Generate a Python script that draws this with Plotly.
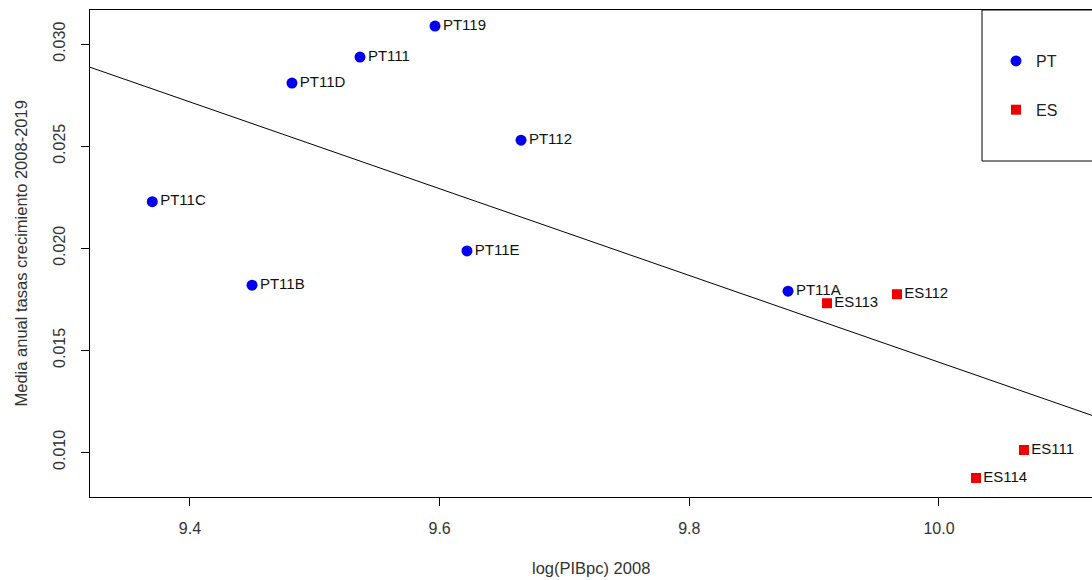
import numpy as np
import plotly.graph_objects as go

# Data
pt_labels = ["PT119", "PT111", "PT11D", "PT112", "PT11C", "PT11E", "PT11B", "PT11A"]
pt_x = [9.5963, 9.5362, 9.4817, 9.6652, 9.3698, 9.6219, 9.4497, 9.8791]
pt_y = [0.03088, 0.029363, 0.028088, 0.025294, 0.02228, 0.019868, 0.018186, 0.017892]

es_labels = ["ES113", "ES112", "ES111", "ES114"]
es_x = [9.9103, 9.9664, 10.0681, 10.0297]
es_y = [0.017304, 0.017745, 0.010113, 0.008740]

x_ticks = [9.4, 9.6, 9.8, 10.0]
x_ticklabels = ["9.4", "9.6", "9.8", "10.0"]
y_ticks = [0.010, 0.015, 0.020, 0.025, 0.030]
y_ticklabels = ["0.010", "0.015", "0.020", "0.025", "0.030"]

x_range = [9.3199, 10.1226]
y_range = [0.00781, 0.03167]

# OLS regression line over all points
all_x = np.array(pt_x + es_x)
all_y = np.array(pt_y + es_y)
slope, intercept = np.polyfit(all_x, all_y, 1)
line_x = np.array(x_range)
line_y = intercept + slope * line_x

FONT = "Liberation Sans, Arial, sans-serif"

fig = go.Figure()

fig.add_trace(go.Scatter(
    x=line_x, y=line_y, mode="lines",
    line=dict(color="black", width=1), showlegend=False, hoverinfo="skip"))

fig.add_trace(go.Scatter(
    x=pt_x, y=pt_y, mode="markers+text", name="PT",
    text=pt_labels, textposition="middle right",
    textfont=dict(family=FONT, size=15, color="#111111"),
    marker=dict(symbol="circle", size=11, color="#0000ee"),
    legendgroup="PT"))

fig.add_trace(go.Scatter(
    x=es_x, y=es_y, mode="markers+text", name="ES",
    text=es_labels, textposition="middle right",
    textfont=dict(family=FONT, size=15, color="#111111"),
    marker=dict(symbol="square", size=10, color="#ee0000"),
    legendgroup="ES"))

# legend box (cut at right edge like the reference)
fig.add_shape(type="rect", xref="paper", yref="paper",
              x0=(982 - 90) / 1002, x1=1.05, y0=(497 - 161) / 487, y1=1.0,
              line=dict(color="black", width=1), fillcolor="rgba(0,0,0,0)")

fig.add_annotation(xref="paper", yref="paper", x=0.5, y=(497 - 568) / 487,
                   xanchor="center", yanchor="middle",
                   text="log(PIBpc) 2008", showarrow=False,
                   font=dict(family=FONT, size=16.5, color="#333333"))
fig.add_annotation(xref="paper", yref="paper", x=(20 - 90) / 1002, y=0.5,
                   xanchor="center", yanchor="middle",
                   text="Media anual tasas crecimiento 2008-2019", showarrow=False,
                   textangle=-90,
                   font=dict(family=FONT, size=16.5, color="#333333"))

fig.update_layout(
    width=1092, height=580,
    margin=dict(l=90, r=0, t=10, b=83),
    paper_bgcolor="white", plot_bgcolor="white",
    font=dict(family=FONT, size=14, color="#333333"),
    legend=dict(x=(996 - 90) / 1002, y=(497 - 44) / 487, xanchor="left", yanchor="top",
                bgcolor="rgba(0,0,0,0)", borderwidth=0, tracegroupgap=25,
                font=dict(family=FONT, size=16, color="#222222")),
    showlegend=True,
)

fig.update_xaxes(range=x_range, tickvals=x_ticks, ticktext=x_ticklabels,
                 showgrid=False, zeroline=False, showline=True, mirror=True,
                 linecolor="black", linewidth=1, ticks="outside", ticklen=8,
                 tickcolor="black", ticklabelstandoff=9,
                 tickfont=dict(family=FONT, size=16, color="#333333"))
fig.update_yaxes(range=y_range, tickvals=y_ticks, ticktext=y_ticklabels,
                 showgrid=False, zeroline=False, showline=True, mirror=False,
                 linecolor="black", linewidth=1, ticks="outside", ticklen=8,
                 tickcolor="black", tickangle=-90, ticklabelstandoff=10,
                 tickfont=dict(family=FONT, size=16, color="#333333"))

fig.write_html("out.html", config={"displayModeBar": False},
               post_script="document.body.style.margin='0';")
